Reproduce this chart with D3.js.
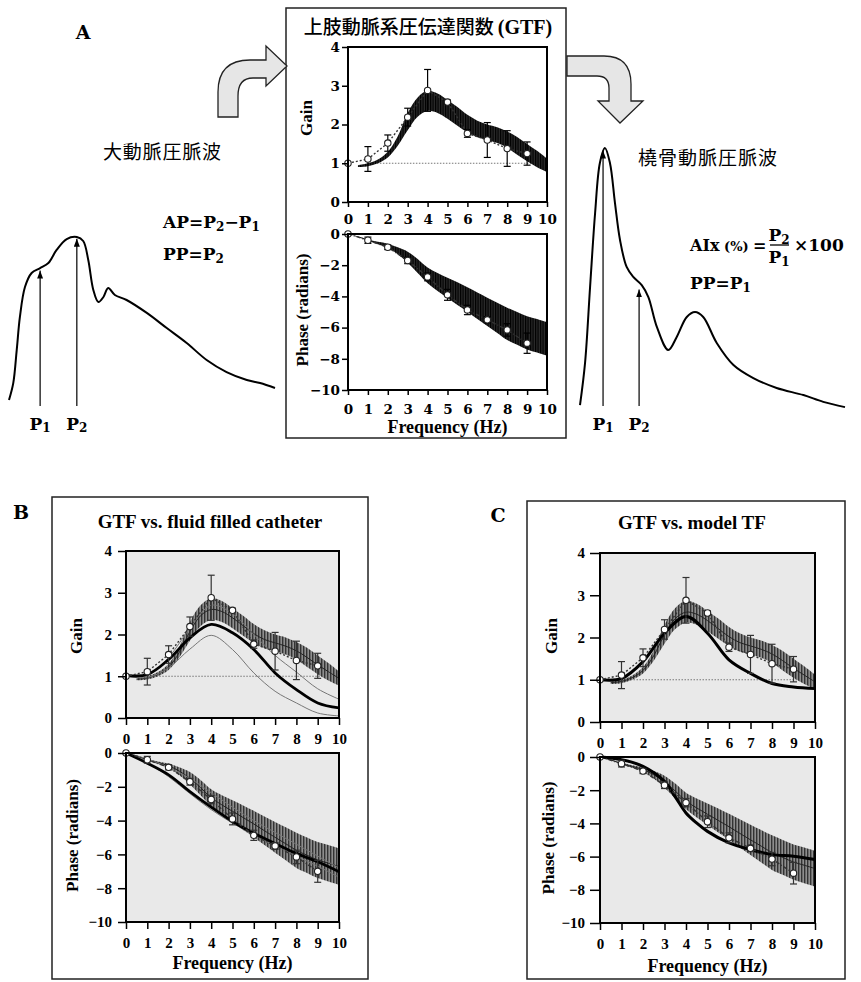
<!DOCTYPE html>
<html lang="ja">
<head>
<meta charset="utf-8">
<title>GTF</title>
<script src="https://cdn.jsdelivr.net/npm/d3@7"></script>
<style>
  body { margin: 0; background: #fff; }
  svg { display: block; }
</style>
</head>
<body>
<svg width="861" height="982"></svg>
<script>
// ---- ticks ----
var freqTicks = [0, 1, 2, 3, 4, 5, 6, 7, 8, 9, 10];
var gainTicks = [0, 1, 2, 3, 4];
var phaseTicks = [0, -2, -4, -6, -8, -10];

// ---- measured (mean +- SD) ----
var measFreq = [0, 1, 2, 3, 4, 5, 6, 7, 8, 9];
var measGain = [1.0, 1.11, 1.52, 2.19, 2.88, 2.58, 1.77, 1.6, 1.38, 1.25];
var measGainErr = [0, 0.32, 0.21, 0.23, 0.54, 0.05, 0.1, 0.45, 0.46, 0.3];
var measPhase = [0, -0.4, -0.85, -1.7, -2.75, -3.9, -4.87, -5.5, -6.15, -7.0];
var measPhaseErr = [0, 0.2, 0.15, 0.2, 0.25, 0.35, 0.3, 0.2, 0.4, 0.65];
var refFreq = [1, 10];
var refGain = [1, 1];

// ---- GTF band ----
var gainBandFreq = [0.5, 1, 1.5, 2, 2.5, 3, 3.5, 4, 4.5, 5, 5.5, 6, 6.5, 7, 7.5, 8, 8.5, 9, 9.5, 10];
var gainBandHi = [0.95, 1.0, 1.1, 1.3, 1.7, 2.3, 2.7, 2.87, 2.8, 2.63, 2.45, 2.25, 2.1, 2.0, 1.93, 1.82, 1.68, 1.5, 1.32, 1.12];
var gainBandLo = [0.9, 0.92, 1.0, 1.15, 1.45, 1.85, 2.2, 2.35, 2.3, 2.15, 1.97, 1.8, 1.67, 1.6, 1.52, 1.4, 1.22, 1.05, 0.9, 0.78];
var gainBandMean = [0.93, 0.96, 1.05, 1.22, 1.57, 2.07, 2.45, 2.6, 2.55, 2.4, 2.21, 2.02, 1.88, 1.8, 1.72, 1.61, 1.45, 1.27, 1.11, 0.95];
var phaseBandFreq = [0, 0.5, 1, 1.5, 2, 2.5, 3, 3.5, 4, 4.5, 5, 5.5, 6, 6.5, 7, 7.5, 8, 8.5, 9, 9.5, 10];
var phaseBandHi = [0, -0.15, -0.35, -0.5, -0.62, -0.85, -1.13, -1.6, -2.15, -2.5, -2.8, -3.1, -3.42, -3.75, -4.08, -4.4, -4.72, -5.0, -5.27, -5.45, -5.65];
var phaseBandLo = [0, -0.2, -0.45, -0.65, -0.9, -1.3, -1.85, -2.5, -3.15, -3.65, -4.1, -4.55, -4.98, -5.45, -5.9, -6.35, -6.8, -7.1, -7.4, -7.6, -7.8];
var phaseBandMean = [0, -0.17, -0.4, -0.57, -0.76, -1.07, -1.5, -2.05, -2.65, -3.07, -3.45, -3.82, -4.2, -4.6, -4.99, -5.37, -5.76, -6.05, -6.33, -6.52, -6.72];

// ---- fluid filled catheter (B) ----
var cathFreq = [0, 1, 2, 3, 4, 5, 6, 7, 8, 9, 10];
var cathGain = [1.02, 1.04, 1.4, 1.92, 2.24, 2.04, 1.64, 1.08, 0.68, 0.36, 0.24];
var cathGainLow = [1.0, 0.97, 1.2, 1.65, 1.98, 1.64, 1.08, 0.64, 0.36, 0.12, 0.05];
var cathGainHigh = [1.0, 1.02, 1.45, 2.15, 2.7, 2.5, 2.0, 1.5, 1.1, 0.7, 0.45];
var cathPhase = [0, -0.6, -1.29, -2.28, -3.2, -4.05, -4.75, -5.35, -5.94, -6.44, -7.03];
var cathPhaseLow = [0, -0.6, -1.4, -2.4, -3.35, -4.15, -4.85, -5.5, -6.1, -6.7, -7.35];
var cathPhaseHigh = [0, -0.35, -0.85, -1.5, -2.35, -3.2, -4.0, -4.7, -5.4, -6.1, -6.8];

// ---- model TF (C) ----
var modelGainFreq = [0, 1, 2, 3, 4, 5, 6, 7, 8, 9, 10];
var modelGain = [1.0, 1.03, 1.43, 2.1, 2.5, 2.1, 1.47, 1.15, 0.91, 0.83, 0.79];
var modelPhaseFreq = [0, 1, 2, 3, 3.5, 4, 4.5, 5, 6, 7, 8, 9, 10];
var modelPhase = [0, -0.16, -0.56, -1.47, -2.4, -3.37, -3.98, -4.48, -5.18, -5.58, -5.88, -5.98, -6.18];

// ---- pressure waves (time %, pressure % of peak) ----
var aorticTime = [0, 1.6, 2.9, 4.1, 6.0, 8.5, 11.7, 14.8, 17.9, 21.7, 25.5, 27.9, 29.8, 31.7, 33.6, 35.5, 37.3, 39.8, 44.2, 51.8, 59.3, 66.8, 74.3, 81.8, 89.4, 94.4, 100];
var aorticPressure = [3, 13, 32.7, 52.4, 70.2, 78.6, 81.5, 84.5, 92.3, 98.8, 100, 97.6, 86.3, 68.5, 61.3, 64.3, 69.6, 65.5, 62.5, 54.8, 45.8, 36.9, 26.8, 19.6, 14.9, 13.1, 10.1];
var aorticPeaks = [{ name: "1", t: 11.7, p: 80 }, { name: "2", t: 25.5, p: 99 }];
var radialTime = [0, 1.9, 3.8, 5.7, 7.5, 9.4, 11.3, 13.2, 15.1, 17.6, 20.1, 23.3, 25.8, 29.0, 33.3, 36.5, 40.3, 43.4, 46.5, 51.6, 57.9, 65.4, 74.2, 84.3, 91.8, 100];
var radialPressure = [1.9, 17.9, 46.9, 75.2, 94.3, 100, 94.3, 79, 64.9, 54.6, 50.8, 47.7, 43.1, 31.7, 22.9, 27.9, 35.5, 37.4, 35.5, 25.6, 17.2, 12.2, 8.4, 5.7, 3.1, 1.1];
var radialPeaks = [{ name: "1", t: 8.7, p: 99 }, { name: "2", t: 22.3, p: 46 }];

var serif = "'Liberation Serif', 'Times New Roman', serif";
var wide = "'DejaVu Serif', serif";
var jp = "'Noto Sans CJK JP', sans-serif";

var svg = d3.select("svg");
svg.append("rect").attr("width", 861).attr("height", 982).attr("fill", "#fff");
var defs = svg.append("defs");

defs.append("marker").attr("id", "head")
    .attr("viewBox", "0 0 8 6").attr("refX", 8).attr("refY", 3)
    .attr("markerWidth", 8).attr("markerHeight", 6)
    .attr("markerUnits", "userSpaceOnUse").attr("orient", "auto")
    .append("path").attr("d", "M0,0 L8,3 L0,6 Z").attr("fill", "#000");

var pd = defs.append("pattern").attr("id", "hatchDark").attr("patternUnits", "userSpaceOnUse").attr("width", 2.5).attr("height", 6);
pd.append("rect").attr("width", 2.5).attr("height", 6).attr("fill", "#2b2b2b");
pd.append("rect").attr("width", 1.2).attr("height", 6).attr("fill", "#000");

var pg = defs.append("pattern").attr("id", "hatchGrey").attr("patternUnits", "userSpaceOnUse").attr("width", 3).attr("height", 6);
pg.append("rect").attr("width", 3).attr("height", 6).attr("fill", "#8e8e8e");
pg.append("rect").attr("width", 1.4).attr("height", 6).attr("fill", "#333");

function idx(a) { return d3.range(a.length); }

function drawPair(c) {
    var x = d3.scaleLinear().domain([0, 10]).range([c.left, c.right]);
    var yG = d3.scaleLinear().domain([0, 4]).range([c.gainBottom, c.gainTop]);
    var yP = d3.scaleLinear().domain([-10, 0]).range([c.phaseBottom, c.phaseTop]);
    var g = svg.append("g");

    [[yG, 0, 4], [yP, -10, 0]].forEach(function (s) {
        g.append("rect").attr("x", x(0)).attr("y", s[0](s[2]))
            .attr("width", x(10) - x(0)).attr("height", s[0](s[1]) - s[0](s[2]))
            .attr("fill", c.bg);
    });

    // reference gain = 1
    g.append("path").datum(idx(refFreq))
        .attr("d", d3.line().x(function (i) { return x(refFreq[i]); }).y(function (i) { return yG(refGain[i]); }))
        .attr("stroke", "#777").attr("stroke-width", 1).attr("stroke-dasharray", "1.5,1.5").attr("fill", "none");

    // GTF bands
    g.append("path").datum(idx(gainBandFreq))
        .attr("d", d3.area().curve(d3.curveCatmullRom)
            .x(function (i) { return x(gainBandFreq[i]); })
            .y0(function (i) { return yG(gainBandLo[i]); })
            .y1(function (i) { return yG(gainBandHi[i]); }))
        .attr("fill", c.band);
    g.append("path").datum(idx(phaseBandFreq))
        .attr("d", d3.area().curve(d3.curveCatmullRom)
            .x(function (i) { return x(phaseBandFreq[i]); })
            .y0(function (i) { return yP(phaseBandLo[i]); })
            .y1(function (i) { return yP(phaseBandHi[i]); }))
        .attr("fill", c.band);

    if (c.meanLine) {
        g.append("path").datum(idx(gainBandFreq))
            .attr("d", d3.line().curve(d3.curveCatmullRom).x(function (i) { return x(gainBandFreq[i]); }).y(function (i) { return yG(gainBandMean[i]); }))
            .attr("fill", "none").attr("stroke", "#222").attr("stroke-width", 1);
        g.append("path").datum(idx(phaseBandFreq))
            .attr("d", d3.line().curve(d3.curveCatmullRom).x(function (i) { return x(phaseBandFreq[i]); }).y(function (i) { return yP(phaseBandMean[i]); }))
            .attr("fill", "none").attr("stroke", "#222").attr("stroke-width", 1);
    }

    // extra comparison curves
    (c.curves || []).forEach(function (cv) {
        var ys = cv.phase ? yP : yG;
        g.append("path").datum(idx(cv.f))
            .attr("d", d3.line().curve(d3.curveCatmullRom).x(function (i) { return x(cv.f[i]); }).y(function (i) { return ys(cv.v[i]); }))
            .attr("fill", "none").attr("stroke", cv.color).attr("stroke-width", cv.width);
    });

    // measured points
    [[yG, measGain, measGainErr, "2,2"], [yP, measPhase, measPhaseErr, "4,2,1,2"]].forEach(function (s) {
        var ys = s[0], v = s[1], e = s[2];
        g.append("path").datum(idx(measFreq))
            .attr("d", d3.line().x(function (i) { return x(measFreq[i]); }).y(function (i) { return ys(v[i]); }))
            .attr("fill", "none").attr("stroke", "#333").attr("stroke-width", 1.4).attr("stroke-dasharray", s[3]);
        var eb = g.append("g").selectAll("g").data(idx(measFreq).filter(function (i) { return e[i] > 0; }))
            .enter().append("g").attr("stroke", c.errColor).attr("stroke-width", 1.2);
        eb.append("line").attr("x1", function (i) { return x(measFreq[i]); }).attr("x2", function (i) { return x(measFreq[i]); })
            .attr("y1", function (i) { return ys(v[i] - e[i]); }).attr("y2", function (i) { return ys(v[i] + e[i]); });
        [-1, 1].forEach(function (k) {
            eb.append("line").attr("x1", function (i) { return x(measFreq[i]) - 3.5; }).attr("x2", function (i) { return x(measFreq[i]) + 3.5; })
                .attr("y1", function (i) { return ys(v[i] + k * e[i]); }).attr("y2", function (i) { return ys(v[i] + k * e[i]); });
        });
        g.append("g").selectAll("circle").data(idx(measFreq)).enter().append("circle")
            .attr("cx", function (i) { return x(measFreq[i]); }).attr("cy", function (i) { return ys(v[i]); })
            .attr("r", 3.2).attr("fill", "#fff").attr("stroke", "#222").attr("stroke-width", 1.1);
    });

    // frames
    [[yG, 0, 4], [yP, -10, 0]].forEach(function (s) {
        g.append("rect").attr("x", x(0)).attr("y", s[0](s[2]))
            .attr("width", x(10) - x(0)).attr("height", s[0](s[1]) - s[0](s[2]))
            .attr("fill", "none").attr("stroke", "#000").attr("stroke-width", 2);
    });

    function styleAxis(a) {
        a.select(".domain").remove();
        a.selectAll("line").attr("stroke", "#000").attr("stroke-width", 1.5);
        a.selectAll("text").attr("font-family", c.tickFont).attr("font-weight", "bold").attr("font-size", c.tickFontSize).attr("fill", "#000");
    }
    var fmt = function (d) { return d < 0 ? "\u2212" + (-d) : String(d); };
    g.append("g").attr("transform", "translate(0," + yG(0) + ")")
        .call(d3.axisBottom(x).tickValues(freqTicks).tickFormat(fmt).tickSize(c.xTick).tickPadding(c.gainXPad)).call(styleAxis);
    g.append("g").attr("transform", "translate(0," + yP(-10) + ")")
        .call(d3.axisBottom(x).tickValues(freqTicks).tickFormat(fmt).tickSize(c.xTick).tickPadding(c.phaseXPad)).call(styleAxis);
    g.append("g").attr("transform", "translate(" + x(0) + ",0)")
        .call(d3.axisLeft(yG).tickValues(gainTicks).tickFormat(fmt).tickSize(c.yTick).tickPadding(c.yPad)).call(styleAxis);
    g.append("g").attr("transform", "translate(" + x(0) + ",0)")
        .call(d3.axisLeft(yP).tickValues(phaseTicks).tickFormat(fmt).tickSize(c.yTick).tickPadding(c.yPad)).call(styleAxis);

    g.append("text").attr("transform", "translate(" + c.gainLabelX + "," + c.gainLabelY + ") rotate(-90)")
        .attr("text-anchor", "middle").attr("font-family", serif).attr("font-weight", "bold").attr("font-size", 17).text("Gain");
    g.append("text").attr("transform", "translate(" + c.phaseLabelX + "," + (yP(-5) - 2) + ") rotate(-90)")
        .attr("text-anchor", "middle").attr("font-family", serif).attr("font-weight", "bold").attr("font-size", 17).text("Phase (radians)");
    g.append("text").attr("x", x(5)).attr("y", c.freqLabelY)
        .attr("text-anchor", "middle").attr("font-family", serif).attr("font-weight", "bold").attr("font-size", 18).text("Frequency (Hz)");
}

// ---- boxes ----
[[286, 8, 280, 430], [52, 497, 316, 482], [527, 501, 318, 478]].forEach(function (b) {
    svg.append("rect").attr("x", b[0]).attr("y", b[1]).attr("width", b[2]).attr("height", b[3])
        .attr("fill", "#fff").attr("stroke", "#222").attr("stroke-width", 1.5);
});

// panel letters
[["A", 83, 39], ["B", 21, 519], ["C", 498, 522]].forEach(function (l) {
    svg.append("text").attr("x", l[1]).attr("y", l[2]).attr("text-anchor", "middle")
        .attr("font-family", wide).attr("font-weight", "bold").attr("font-size", 19).text(l[0]);
});

// titles
var tA = svg.append("text").attr("x", 428).attr("y", 34).attr("text-anchor", "middle");
tA.append("tspan").attr("font-family", jp).attr("font-weight", 500).attr("font-size", 19).text("上肢動脈系圧伝達関数");
tA.append("tspan").attr("dx", 4).attr("font-family", serif).attr("font-weight", "bold").attr("font-size", 20).text("(GTF)");
svg.append("text").attr("x", 210).attr("y", 528).attr("text-anchor", "middle")
    .attr("font-family", serif).attr("font-weight", "bold").attr("font-size", 19).text("GTF vs. fluid filled catheter");
svg.append("text").attr("x", 692).attr("y", 529).attr("text-anchor", "middle")
    .attr("font-family", serif).attr("font-weight", "bold").attr("font-size", 19).text("GTF vs. model TF");

drawPair({
    left: 348, right: 547, gainTop: 47, gainBottom: 202, phaseTop: 234, phaseBottom: 390,
    bg: "#fff", band: "url(#hatchDark)", meanLine: false, errColor: "#000",
    tickFont: wide, tickFontSize: 13.5, xTick: 5, yTick: 6, yPad: 2, gainXPad: 7, phaseXPad: 9,
    gainLabelX: 312, gainLabelY: 118, phaseLabelX: 308, freqLabelY: 433
});
drawPair({
    left: 126, right: 339, gainTop: 551, gainBottom: 718, phaseTop: 753, phaseBottom: 922,
    bg: "#e9e9e9", band: "url(#hatchGrey)", meanLine: true, errColor: "#333",
    tickFont: serif, tickFontSize: 15, xTick: 7, yTick: 8, yPad: 6, gainXPad: 8, phaseXPad: 8,
    gainLabelX: 82, gainLabelY: 636, phaseLabelX: 78, freqLabelY: 969,
    curves: [
        { f: cathFreq, v: cathGainLow, color: "#777", width: 1 },
        { f: cathFreq, v: cathGainHigh, color: "#777", width: 1 },
        { f: cathFreq, v: cathGain, color: "#000", width: 2.8 },
        { f: cathFreq, v: cathPhaseLow, color: "#777", width: 1, phase: true },
        { f: cathFreq, v: cathPhaseHigh, color: "#777", width: 1, phase: true },
        { f: cathFreq, v: cathPhase, color: "#000", width: 2.8, phase: true }
    ]
});
drawPair({
    left: 600, right: 815, gainTop: 553, gainBottom: 722, phaseTop: 757, phaseBottom: 923,
    bg: "#e9e9e9", band: "url(#hatchGrey)", meanLine: true, errColor: "#333",
    tickFont: serif, tickFontSize: 15, xTick: 7, yTick: 10, yPad: 5, gainXPad: 8, phaseXPad: 8,
    gainLabelX: 557, gainLabelY: 636, phaseLabelX: 554, freqLabelY: 972,
    curves: [
        { f: modelGainFreq, v: modelGain, color: "#000", width: 3 },
        { f: modelPhaseFreq, v: modelPhase, color: "#000", width: 3, phase: true }
    ]
});

// ---- pressure waves ----
function drawWave(t, p, peaks, xr, yr) {
    var x = d3.scaleLinear().domain([0, 100]).range(xr);
    var y = d3.scaleLinear().domain([0, 100]).range(yr);
    svg.append("path").datum(idx(t))
        .attr("d", d3.line().curve(d3.curveCatmullRom).x(function (i) { return x(t[i]); }).y(function (i) { return y(p[i]); }))
        .attr("fill", "none").attr("stroke", "#000").attr("stroke-width", 2);
    peaks.forEach(function (pk) {
        svg.append("line").attr("x1", x(pk.t)).attr("x2", x(pk.t)).attr("y1", 406).attr("y2", y(pk.p))
            .attr("stroke", "#000").attr("stroke-width", 1.2).attr("marker-end", "url(#head)");
        var tx = svg.append("text").attr("x", x(pk.t)).attr("y", 430).attr("text-anchor", "middle")
            .attr("font-family", wide).attr("font-weight", "bold").attr("font-size", 17);
        tx.append("tspan").text("P");
        tx.append("tspan").attr("font-size", 12).attr("dy", 2).text(pk.name);
    });
}
drawWave(aorticTime, aorticPressure, aorticPeaks, [9, 275], [405, 237]);
drawWave(radialTime, radialPressure, radialPeaks, [580, 845], [410, 148]);

// block arrows
var arrowL = d3.path();
arrowL.moveTo(218, 117); arrowL.lineTo(218, 92); arrowL.quadraticCurveTo(218, 60, 250, 60);
arrowL.lineTo(266, 60); arrowL.lineTo(266, 46); arrowL.lineTo(287, 66); arrowL.lineTo(266, 86);
arrowL.lineTo(266, 78); arrowL.lineTo(253, 78); arrowL.quadraticCurveTo(238, 78, 238, 96);
arrowL.lineTo(238, 117); arrowL.closePath();
var arrowR = d3.path();
arrowR.moveTo(567, 56); arrowR.lineTo(604, 56); arrowR.quadraticCurveTo(631, 56, 631, 84);
arrowR.lineTo(631, 101); arrowR.lineTo(643, 101); arrowR.lineTo(620, 123); arrowR.lineTo(598, 101);
arrowR.lineTo(609, 101); arrowR.lineTo(609, 88); arrowR.quadraticCurveTo(609, 76, 597, 76);
arrowR.lineTo(567, 76); arrowR.closePath();
[arrowL, arrowR].forEach(function (a) {
    svg.append("path").attr("d", a.toString()).attr("fill", "#e6e6e6").attr("stroke", "#222").attr("stroke-width", 1.3);
});

// wave captions
svg.append("text").attr("x", 103).attr("y", 159).attr("font-family", jp).attr("font-size", 19)
    .attr("letter-spacing", 0.8).text("大動脈圧脈波");
svg.append("text").attr("x", 638).attr("y", 165).attr("font-family", jp).attr("font-size", 19)
    .attr("letter-spacing", 1).text("橈骨動脈圧脈波");

function formula(xp, yp, parts, size) {
    var t = svg.append("text").attr("x", xp).attr("y", yp).attr("font-family", wide).attr("font-weight", "bold").attr("font-size", size || 17);
    parts.forEach(function (p) {
        var s = t.append("tspan").text(p[0]);
        if (p[1]) s.attr("font-size", 12).attr("dy", 3);
        if (p[2]) s.attr("dy", -3);
    });
    return t;
}
formula(163, 228, [["AP=P"], ["2", 1], ["\u2212P", 0, 1], ["1", 1]]);
formula(163, 260, [["PP=P"], ["2", 1]]);
formula(690, 251, [["AIx"]], 16);
formula(724, 251, [["(%)"]], 13);
formula(753, 251, [["="]], 16);
formula(779, 241, [["P"], ["2", 1]]).attr("text-anchor", "middle");
svg.append("line").attr("x1", 770).attr("x2", 789).attr("y1", 245).attr("y2", 245).attr("stroke", "#000").attr("stroke-width", 1.3);
formula(779, 263, [["P"], ["1", 1]]).attr("text-anchor", "middle");
formula(794, 251, [["\u00d7100"]], 17);
formula(690, 289, [["PP=P"], ["1", 1]]);
</script>
</body>
</html>
